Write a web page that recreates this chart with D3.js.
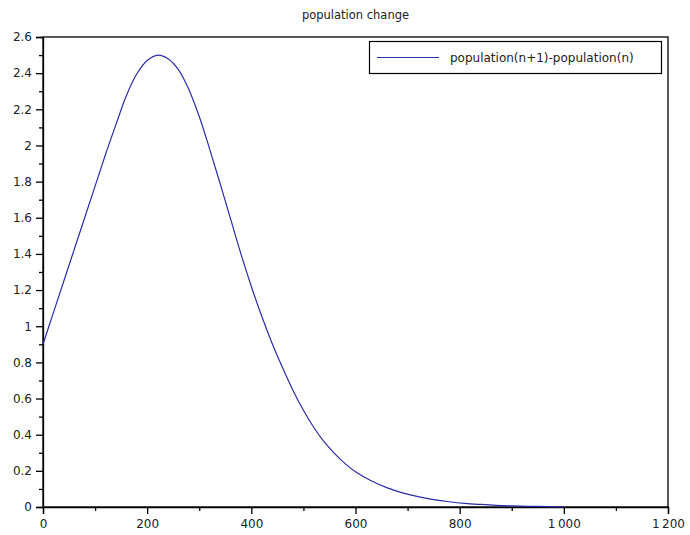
<!DOCTYPE html>
<html><head><meta charset="utf-8">
<script src="https://cdn.jsdelivr.net/npm/d3@7/dist/d3.min.js"></script>
<style>body{margin:0;background:#fff}svg{display:block}text{font-family:"DejaVu Sans",sans-serif;fill:#222}</style>
</head><body><svg id="c" width="690" height="535"></svg>
<script>
const title = "population change";
const seriesName = "population(n+1)-population(n)";
const nValues = [0,20,40,60,80,100,120,140,160,180,200,221,240,260,280,300,320,340,360,380,400,420,440,460,480,500,520,540,560,580,600,630,660,690,720,750,780,810,840,870,900,950,1000];
const changeValues = [0.90,1.075,1.25,1.425,1.60,1.775,1.95,2.115,2.275,2.395,2.47,2.50,2.48,2.42,2.31,2.16,1.98,1.79,1.595,1.40,1.22,1.055,0.905,0.77,0.645,0.535,0.44,0.36,0.295,0.24,0.195,0.145,0.107,0.078,0.057,0.041,0.029,0.020,0.014,0.009,0.006,0.003,0.001];
const xTicks = [0,200,400,600,800,1000,1200];
const xMinor = [100,300,500,700,900,1100];
const yTicks = [0,0.2,0.4,0.6,0.8,1,1.2,1.4,1.6,1.8,2,2.2,2.4,2.6];
const yMinor = [0.1,0.3,0.5,0.7,0.9,1.1,1.3,1.5,1.7,1.9,2.1,2.3,2.5];

const svg = d3.select("#c");
const L=43,R=668,T=37,B=507;
const x = d3.scaleLinear().domain([0,1200]).range([L,R]);
const y = d3.scaleLinear().domain([0,2.6]).range([B,T]);
const fmtX = v => v>=1000 ? Math.floor(v/1000)+"\u2009"+String(v%1000).padStart(3,"0") : String(v);
const fmtY = v => String(+v.toFixed(1));

svg.append("rect").attr("x",L).attr("y",T).attr("width",R-L).attr("height",B-T)
  .attr("fill","none").attr("stroke","#000").attr("stroke-width",1.3);

svg.append("g").attr("transform",`translate(0,${B})`)
  .call(d3.axisBottom(x).tickValues(xTicks).tickSize(7).tickPadding(5).tickFormat(fmtX));
svg.append("g").attr("transform",`translate(0,${B})`)
  .call(d3.axisBottom(x).tickValues(xMinor).tickSize(4).tickFormat(""))
  .select(".domain").remove();
svg.append("g").attr("transform",`translate(${L},0)`)
  .call(d3.axisLeft(y).tickValues(yTicks).tickSize(7).tickPadding(4).tickFormat(fmtY));
svg.append("g").attr("transform",`translate(${L},0)`)
  .call(d3.axisLeft(y).tickValues(yMinor).tickSize(4).tickFormat(""))
  .select(".domain").remove();
svg.selectAll(".domain").attr("stroke-width",1.3);
svg.selectAll(".tick line").attr("stroke","#000").attr("stroke-width",1.3);
svg.selectAll(".tick text").attr("font-size",12).attr("font-family","DejaVu Sans").attr("fill","#222");

const data = nValues.map((n,i)=>({n, v: changeValues[i]}));
svg.append("path").datum(data)
  .attr("fill","none").attr("stroke","#2c2ca6").attr("stroke-width",1.2)
  .attr("d", d3.line().x(d=>x(d.n)).y(d=>y(d.v)).curve(d3.curveCatmullRom));

svg.append("text").attr("x",(L+R)/2).attr("y",19).attr("text-anchor","middle")
  .attr("font-size",11.5).text(title);

const lg = svg.append("g");
lg.append("rect").attr("x",369.5).attr("y",41.5).attr("width",292).attr("height",32)
  .attr("fill","#fff").attr("stroke","#000").attr("stroke-width",1.2);
lg.append("line").attr("x1",377).attr("x2",439).attr("y1",57.5).attr("y2",57.5)
  .attr("stroke","#2c2ca6").attr("stroke-width",1.2);
lg.append("text").attr("x",450).attr("y",62).attr("font-size",12).text(seriesName);
</script></body></html>
